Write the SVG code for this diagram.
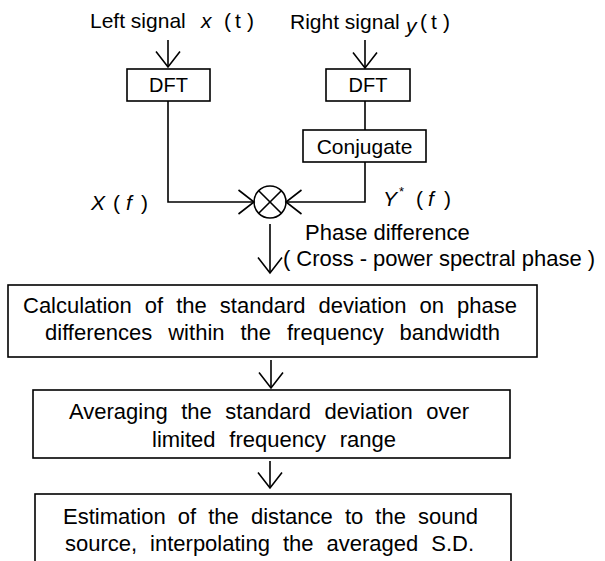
<svg xmlns="http://www.w3.org/2000/svg" width="605" height="561" viewBox="0 0 605 561">
<style>
text{font-family:"Liberation Sans",Arial,sans-serif;fill:#000}
.lbl{font-size:20px}
.top{font-size:21px}
.box{fill:#fff;stroke:#000;stroke-width:1.6}
.bt{font-size:22px}
.it{font-style:italic}
.ln{fill:none;stroke:#000;stroke-width:1.6}
.ar{fill:none;stroke:#000;stroke-width:1.6;marker-end:url(#v)}
</style>
<defs>
<marker id="v" markerUnits="userSpaceOnUse" viewBox="0 0 16 26" refX="15.5" refY="13" markerWidth="16" markerHeight="26" orient="auto" overflow="visible">
<path d="M0,1 L15.5,13 L0,25" fill="none" stroke="#000" stroke-width="1.6"/>
</marker>
</defs>
<g id="labels">
<text class="top" y="28"><tspan x="90">Left signal</tspan><tspan class="it" x="201">x</tspan><tspan x="224">(</tspan><tspan x="235">t</tspan><tspan x="247">)</tspan></text>
<text class="top" y="29"><tspan x="290">Right signal</tspan><tspan class="it" x="406" y="33">y</tspan><tspan x="420" y="29">(</tspan><tspan x="431">t</tspan><tspan x="443">)</tspan></text>
<text style="font-size:21px" y="210"><tspan class="it" x="91">X</tspan><tspan x="113">(</tspan><tspan class="it" x="126">f</tspan><tspan x="141">)</tspan></text>
<text style="font-size:21px" y="206"><tspan class="it" x="383">Y</tspan><tspan x="399" y="196" style="font-size:13px">*</tspan><tspan x="416" y="206">(</tspan><tspan class="it" x="428">f</tspan><tspan x="444">)</tspan></text>
<text class="bt" x="305" y="240">Phase difference</text>
<text class="bt" x="283" y="266" textLength="312">( Cross - power spectral  phase )</text>
</g>
<g id="dft-left"><rect class="box" x="127" y="69" width="83" height="32"/><text class="lbl" x="168.5" y="92" text-anchor="middle">DFT</text></g>
<g id="dft-right"><rect class="box" x="326" y="69" width="84" height="32"/><text class="lbl" x="368" y="92" text-anchor="middle">DFT</text></g>
<g id="conjugate"><rect class="box" x="303" y="130" width="123" height="32"/><text x="364.5" y="154" text-anchor="middle" style="font-size:21px">Conjugate</text></g>
<g id="multiplier"><circle cx="270" cy="202" r="16" fill="#fff" stroke="#000" stroke-width="1.6"/><path class="ln" d="M258.7,190.7 L281.3,213.3 M281.3,190.7 L258.7,213.3"/></g>
<g id="box-sd"><rect class="box" x="8" y="285" width="529" height="72"/>
<text class="bt" x="23" y="313" word-spacing="6.9" textLength="494">Calculation of the standard deviation on phase</text>
<text class="bt" x="45" y="340" word-spacing="9.8" textLength="455">differences within the frequency bandwidth</text></g>
<g id="box-avg"><rect class="box" x="33" y="390" width="477" height="68"/>
<text class="bt" x="69" y="419" word-spacing="7.4" textLength="400">Averaging the standard deviation over</text>
<text class="bt" x="152" y="447" word-spacing="7.7" textLength="244">limited frequency range</text></g>
<g id="box-est"><rect class="box" x="35" y="494" width="476" height="80"/>
<text class="bt" x="63" y="524" word-spacing="6" textLength="415">Estimation of the distance to the sound</text>
<text class="bt" x="65" y="551" word-spacing="6.9" textLength="409">source, interpolating the averaged S.D.</text></g>
<g id="connectors">
<path class="ar" d="M168,40 V67"/>
<path class="ar" d="M365,40 V68"/>
<path class="ar" d="M168,101 V202 H254"/>
<path class="ln" d="M365,101 V130"/>
<path class="ar" d="M365,162 V202 H286"/>
<path class="ar" d="M270,224 V273"/>
<path class="ar" d="M271,360 V388"/>
<path class="ar" d="M270,461 V488"/>
</g>
</svg>
